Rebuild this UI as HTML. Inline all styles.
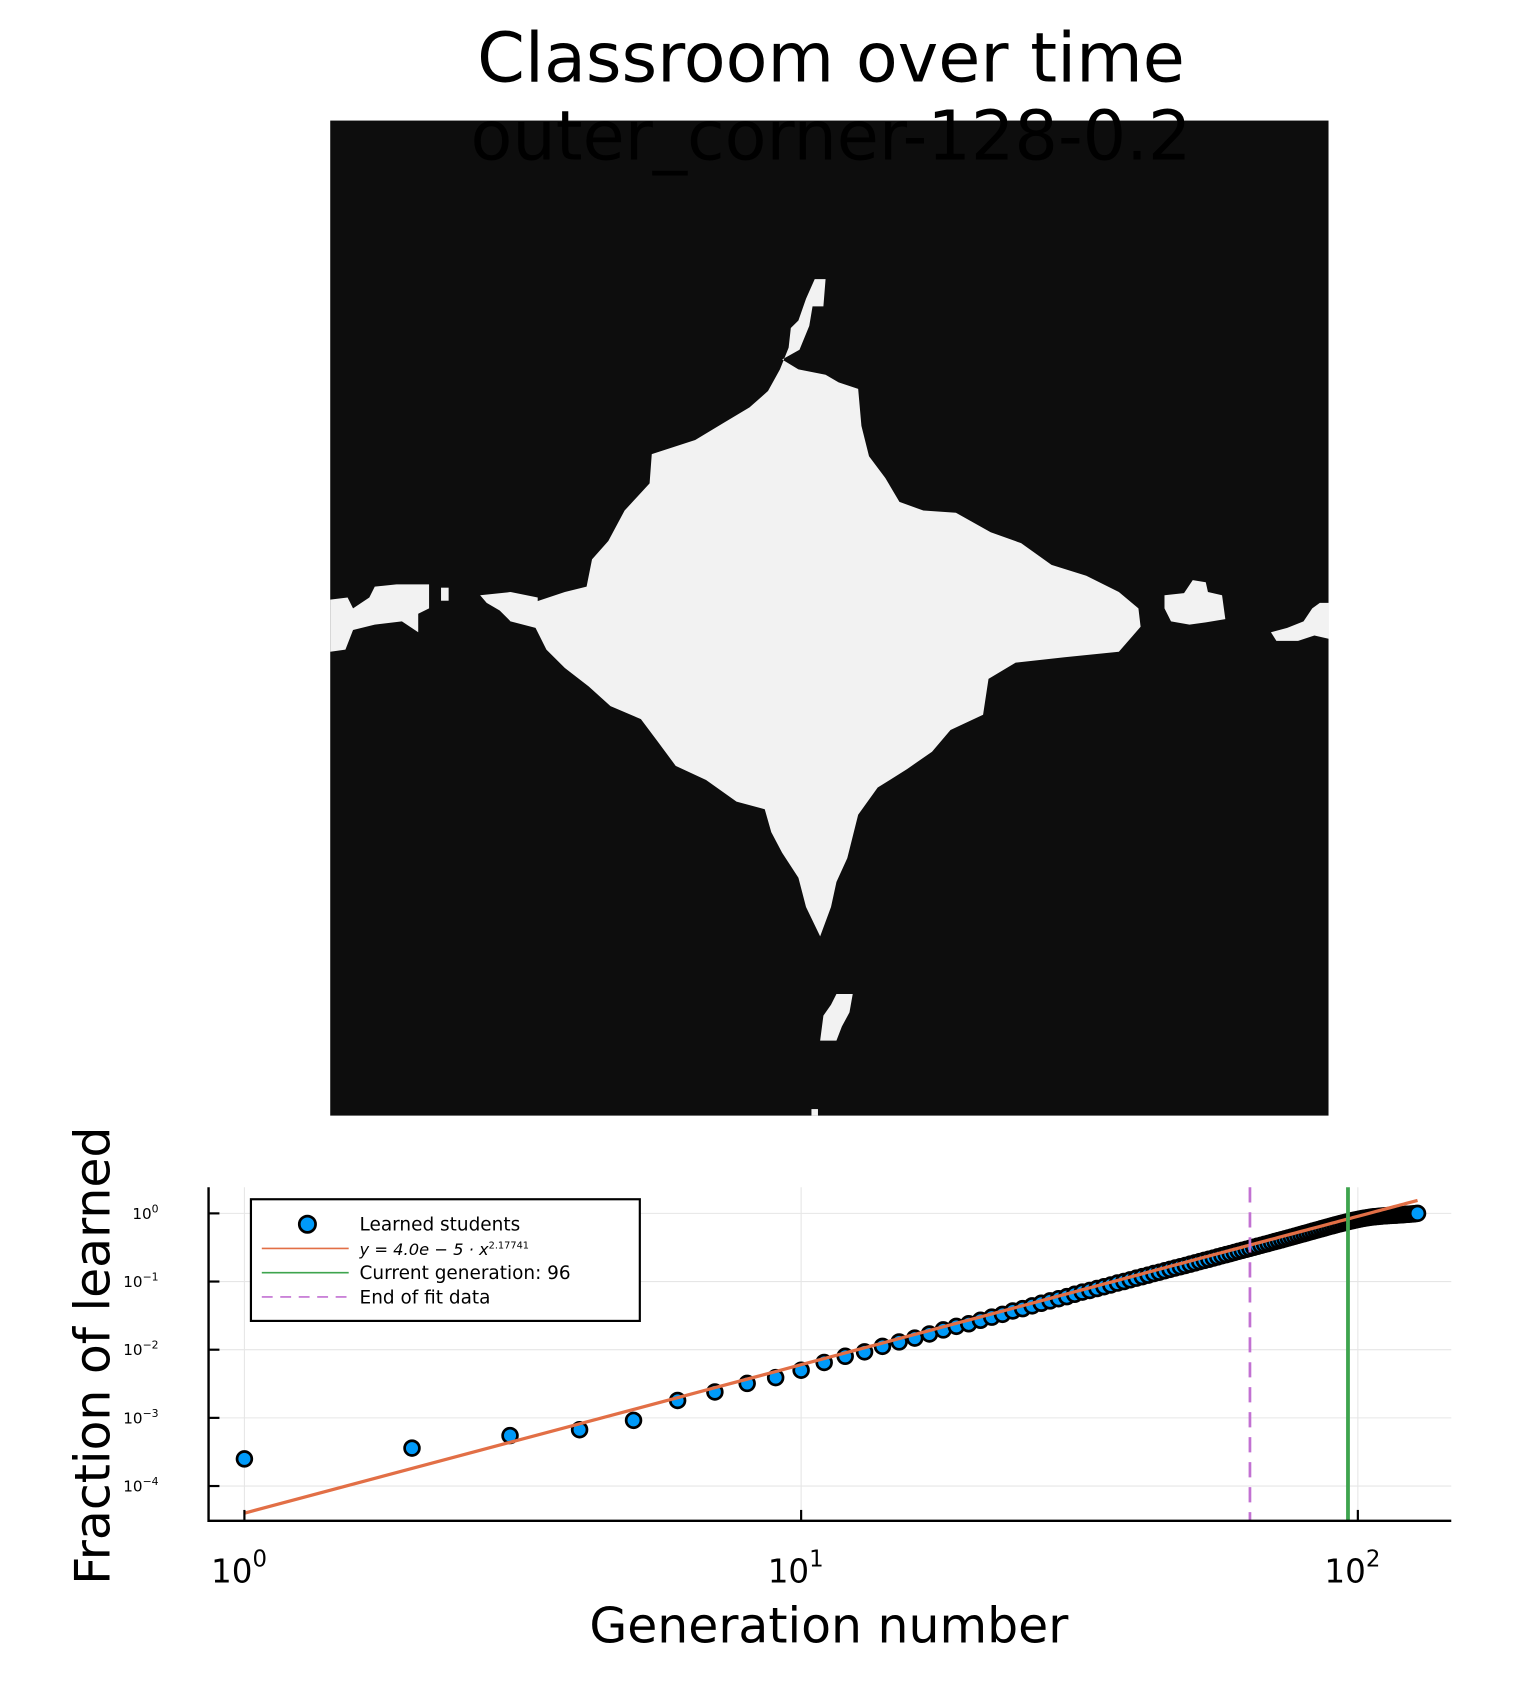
<!DOCTYPE html>
<html><head><meta charset="utf-8"><style>
html,body{margin:0;padding:0;background:#fff}
svg{display:block}
text{font-family:"DejaVu Sans","Liberation Sans",sans-serif}
</style></head><body>
<svg id="chart" width="1536" height="1706" viewBox="0 0 1414 1570.5" preserveAspectRatio="none" xmlns="http://www.w3.org/2000/svg">
<rect x="0" y="0" width="1414" height="1570.5" fill="#fff"/>
<g>
<rect x="304" y="111" width="919" height="916" fill="#0d0d0d"/>
<g fill="#f2f2f2">
<polygon points="750,257 760,257 758,282 748,282 745,300 736,322 720,331 735,340 760,345 772,352 790,358 793,392 800,420 815,440 828,462 850,470 880,472 912,490 940,500 968,520 1000,530 1030,545 1048,560 1050,577 1030,600 980,605 935,610 910,625 905,658 875,672 858,692 835,708 808,725 790,750 780,790 770,812 765,835 755,862 742,835 735,808 720,785 710,766 704,745 678,738 650,718 622,705 605,682 590,662 562,650 542,632 520,615 503,598 493,578 470,572 462,562 490,555 520,545 540,540 545,515 560,498 575,470 598,445 600,418 640,405 665,390 690,375 707,360 718,340 726,320 728,302 735,295 742,275"/>
<polygon points="304,552 320,550 325,560 340,550 345,540 365,538 395,538 395,560 385,565 385,582 370,572 345,575 325,580 318,598 304,600"/>
<rect x="406" y="541" width="7" height="12"/>
<polygon points="442,548 470,545 495,550 495,572 470,572 460,562 448,555"/>
<polygon points="1072,548 1090,546 1098,534 1110,536 1112,545 1125,548 1128,570 1110,573 1095,575 1078,572 1072,560"/>
<polygon points="1170,582 1185,578 1200,572 1208,560 1215,555 1223,555 1223,588 1210,585 1195,590 1175,590"/>
<polygon points="770,915 785,915 782,932 775,945 770,958 755,958 758,935 765,925"/>
<rect x="747" y="1021" width="6" height="6"/>
</g>
</g>
<g fill="#000" font-size="63" text-anchor="middle">
<text x="765" y="75">Classroom over time</text>
<text x="765" y="147">outer_corner-128-0.2</text>
</g>
<g id="plot"></g>
</svg>
<script>
const xTicks = [1, 10, 100];
const xTickExp = ["0", "1", "2"];
const yTicks = [1, 0.1, 0.01, 0.001, 0.0001];
const yTickExp = ["0", "\u22121", "\u22122", "\u22123", "\u22124"];
const fitA = 4.0e-5;
const fitB = 2.17741;
const currentGen = 96;
const endFitGen = 64;
const learned = [0.00025,0.00036,0.00055,0.00067,0.00092,0.0018,0.0024,0.0032,0.0039,0.0050,
0.0065,0.0080,0.0093,0.0112,0.013,0.0148,0.017,0.0195,0.022,0.024,
0.027,0.030,0.033,0.037,0.040,0.044,0.048,0.052,0.056,0.060,
0.065,0.070,0.074,0.079,0.084,0.089,0.095,0.100,0.106,0.112,
0.118,0.124,0.131,0.137,0.144,0.151,0.158,0.165,0.172,0.180,
0.188,0.196,0.204,0.212,0.221,0.230,0.239,0.248,0.257,0.267,
0.277,0.287,0.297,0.307,0.318,0.329,0.340,0.351,0.362,0.374,
0.386,0.398,0.410,0.423,0.436,0.449,0.462,0.476,0.490,0.504,
0.518,0.533,0.548,0.563,0.578,0.594,0.610,0.626,0.642,0.658,
0.674,0.690,0.706,0.722,0.738,0.754,0.770,0.785,0.800,0.814,
0.828,0.841,0.853,0.864,0.874,0.883,0.891,0.898,0.905,0.911,
0.917,0.922,0.927,0.932,0.936,0.940,0.944,0.948,0.952,0.956,
0.960,0.965,0.970,0.975,0.980,0.985,0.992,1.0];

const NS = "http://www.w3.org/2000/svg";
const g = document.getElementById('plot');
const L = 192, R = 1336, T = 1093, B = 1400;
const x0 = 225, dec = 512.5;
const y0 = 1117, ydec = 62.75;
const X = v => x0 + dec * Math.log10(v);
const Y = v => y0 - ydec * Math.log10(v);
function mk(tag, attrs, parent) {
  const e = document.createElementNS(NS, tag);
  for (const k in attrs) e.setAttribute(k, attrs[k]);
  (parent || g).appendChild(e);
  return e;
}
xTicks.forEach(t => {
  const l = mk('line', {x1: X(t), x2: X(t), y1: T, y2: B, stroke: '#e6e6e6', 'stroke-width': 1});
  
  
});
yTicks.forEach(t => {
  const l = mk('line', {x1: L, x2: R, y1: Y(t), y2: Y(t), stroke: '#e6e6e6', 'stroke-width': 1});
  
  
});
const pts = mk('g', {});


learned.forEach((v, i) => {
  const c = mk('circle', {cx: X(i + 1), cy: Y(v), r: 6.8, fill: '#009af9', stroke: '#000', 'stroke-width': 2.5}, pts);
  
  
});
const fitPts = [];
for (let i = 1; i <= learned.length; i++) fitPts.push(X(i).toFixed(2) + ',' + Y(fitA * Math.pow(i, fitB)).toFixed(2));
const fl = mk('polyline', {points: fitPts.join(' '), fill: 'none', stroke: '#e26f46', 'stroke-width': 3});


const pl = mk('line', {x1: X(endFitGen), x2: X(endFitGen), y1: T, y2: B, stroke: '#c271d2', 'stroke-width': 2.5, 'stroke-dasharray': '14,9'});


const gl = mk('line', {x1: X(currentGen), x2: X(currentGen), y1: T, y2: B, stroke: '#3ea44e', 'stroke-width': 3.5});


const ax = mk('path', {d: `M${L},${T} V${B} H${R}`, fill: 'none', stroke: '#000', 'stroke-width': 2.2});


xTicks.forEach((t, i) => {
  const tk = mk('line', {x1: X(t), x2: X(t), y1: B, y2: B - 10, stroke: '#000', 'stroke-width': 2});
  
  
  const tx = mk('text', {x: X(t) - 5, y: 1457, 'font-size': 30, 'text-anchor': 'middle'});
  
  
  tx.textContent = '10';
  const s = mk('tspan', {dy: -15, 'font-size': 21}, tx);
  s.textContent = xTickExp[i];
});
yTicks.forEach((t, i) => {
  const tk = mk('line', {x1: L, x2: L + 10, y1: Y(t), y2: Y(t), stroke: '#000', 'stroke-width': 2});
  
  
  const tx = mk('text', {x: 146, y: Y(t) + 5, 'font-size': 14, 'text-anchor': 'end'});
  
  
  tx.textContent = '10';
  const s = mk('tspan', {dy: -6, 'font-size': 10}, tx);
  s.textContent = yTickExp[i];
});
const xl = mk('text', {x: 763, y: 1512, 'font-size': 45, 'text-anchor': 'middle'});


xl.textContent = 'Generation number';
const yl = mk('text', {x: 0, y: 0, 'font-size': 45, 'text-anchor': 'middle', transform: 'translate(101,1248) rotate(-90)'});


yl.textContent = 'Fraction of learned';
const lg = mk('g', {});


mk('rect', {x: 231, y: 1104, width: 358, height: 112, fill: '#fff', stroke: '#000', 'stroke-width': 2}, lg);
const ents = [
  ['marker', 'Learned students', null],
  ['line', null, '#e26f46'],
  ['line', 'Current generation: 96', '#3ea44e'],
  ['dash', 'End of fit data', '#c271d2']
];
ents.forEach((e, i) => {
  const yy = 1127 + i * 22.3;
  const eg = mk('g', {}, lg);
  
  
  if (e[0] === 'marker') mk('circle', {cx: 283, cy: yy, r: 7.5, fill: '#009af9', stroke: '#000', 'stroke-width': 2.5}, eg);
  else mk('line', {x1: 241, x2: 321, y1: yy, y2: yy, stroke: e[2], 'stroke-width': 1.5, 'stroke-dasharray': e[0] === 'dash' ? '10,7' : 'none'}, eg);
  if (e[1]) {
    const t = mk('text', {x: 331, y: yy + 6, 'font-size': 17}, eg);
    t.textContent = e[1];
  } else {
    const t = mk('text', {x: 331, y: yy + 6, 'font-size': 15, 'font-family': 'Liberation Serif, serif', 'font-style': 'italic'}, eg);
    t.textContent = 'y = 4.0e \u2212 5 \u00b7 x';
    const s = mk('tspan', {dy: -6, 'font-size': 9, 'font-style': 'normal'}, t);
    s.textContent = '2.17741';
  }
});
</script>
</body></html>
